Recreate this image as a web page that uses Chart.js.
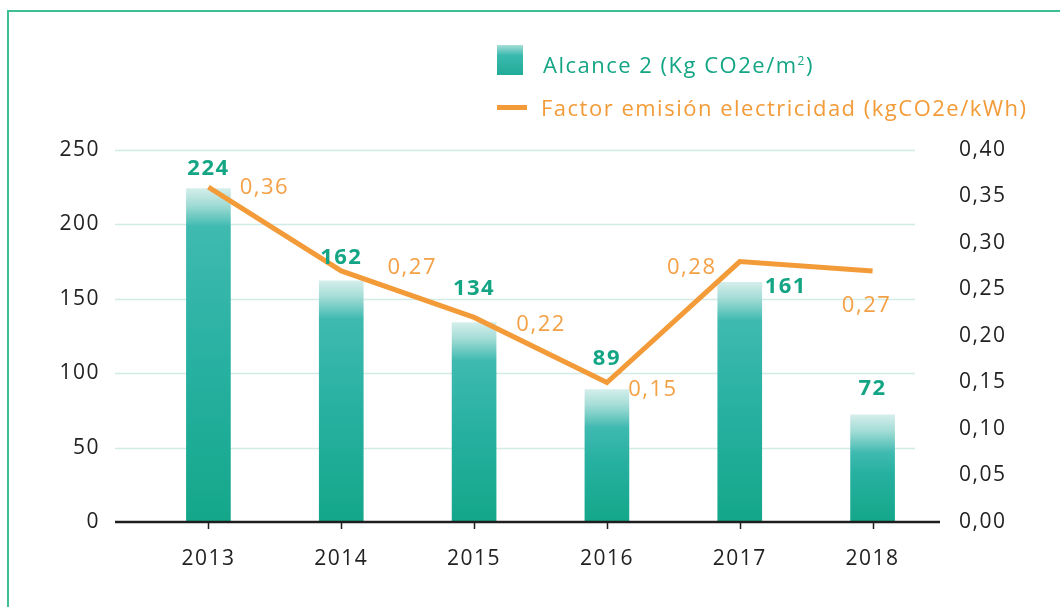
<!DOCTYPE html>
<html>
<head>
<meta charset="utf-8">
<script src="https://cdn.jsdelivr.net/npm/chart.js@4.4.1/dist/chart.umd.min.js"></script>
<style>
  body { margin: 0; background: #fff; font-family: "Open Sans", sans-serif; }
  #wrap { position: relative; width: 1060px; height: 607px; overflow: hidden; }
  #frame { position: absolute; left: 7px; top: 10px; width: 1100px; height: 700px;
           border-left: 2px solid #3cbf95; border-top: 2px solid #3cbf95; }
  canvas { position: absolute; left: 0; top: 0; }
  .leg { position: absolute; font-size: 22px; white-space: nowrap; letter-spacing: 1.5px; }
  .leg1 { left: 543px; top: 49px; color: #14a585; }
  .leg2 { left: 541px; top: 92px; color: #f39b38; }
  .icon1 { position: absolute; left: 497px; top: 45px; width: 26px; height: 30px;
           background: linear-gradient(#a6ddd8, #3ab9ae 35%, #22ab98); }
  .icon2 { position: absolute; left: 497px; top: 105px; width: 30px; height: 5px; background: #f39b38; }
</style>
</head>
<body>
<div id="wrap">
  <div id="frame"></div>
  <canvas id="chart" width="1060" height="607"></canvas>
  <div class="icon1"></div>
  <div class="leg leg1">Alcance 2 (Kg CO2e/m<sup style="font-size:12px">2</sup>)</div>
  <div class="icon2"></div>
  <div class="leg leg2">Factor emisión electricidad (kgCO2e/kWh)</div>
</div>
<script>
// Data
const years = ['2013', '2014', '2015', '2016', '2017', '2018'];
const alcance2 = [224, 162, 134, 89, 161, 72];
const factorEmision = [0.36, 0.27, 0.22, 0.15, 0.28, 0.27];

// label offsets (px) relative to bar top / line point
const barLabelOffsets = [[0, -20], [0, -23], [0, -34], [0, -31], [46, 4], [0, -26]];
const lineLabelOffsets = [[56, 1], [71, -3], [67, 7], [46, 7], [-48, 6], [-6, 35]];

const TEAL = '#14a585';
const ORANGE = '#f39b38';
const FONT = '"Open Sans", sans-serif';

function barGradient(context) {
    const chart = context.chart;
    const { ctx, chartArea, scales } = chart;
    if (!chartArea || context.raw === undefined) return '#2ab3a2';
    const top = scales.y.getPixelForValue(context.raw);
    const bottom = scales.y.getPixelForValue(0);
    const h = bottom - top;
    const g = ctx.createLinearGradient(0, top, 0, bottom);
    g.addColorStop(0, '#d4eeeb');
    g.addColorStop(Math.min(0.3, 16 / h), '#a3dcd6');
    g.addColorStop(Math.min(0.45, 38 / h), '#3fbab0');
    g.addColorStop(0.55, '#26b0a0');
    g.addColorStop(1, '#14a78a');
    return g;
}

// wider spacing for canvas text
const spacingPlugin = {
    id: 'spacingPlugin',
    beforeDraw(chart) { chart.ctx.letterSpacing = '1.5px'; }
};

// gridlines, axis line and tick marks
const axesPlugin = {
    id: 'axesPlugin',
    beforeDatasetsDraw(chart) {
        const { ctx, scales } = chart;
        ctx.save();
        ctx.strokeStyle = '#d3ebe5';
        ctx.lineWidth = 1.5;
        scales.y.ticks.forEach(t => {
            if (t.value === 0) return;
            const y = Math.round(scales.y.getPixelForValue(t.value)) + 0.5;
            ctx.beginPath();
            ctx.moveTo(115, y);
            ctx.lineTo(915, y);
            ctx.stroke();
        });
        ctx.restore();
    },
    afterDatasetsDraw(chart) {
        const { ctx, scales } = chart;
        const y0 = scales.y.getPixelForValue(0);
        ctx.save();
        ctx.strokeStyle = '#1e1e1e';
        ctx.lineWidth = 2.5;
        ctx.beginPath();
        ctx.moveTo(115, y0);
        ctx.lineTo(940, y0);
        ctx.stroke();
        ctx.lineWidth = 1.5;
        years.forEach((yr, i) => {
            const x = Math.round(scales.x.getPixelForValue(i)) + 0.5;
            ctx.beginPath();
            ctx.moveTo(x, y0);
            ctx.lineTo(x, y0 + 7);
            ctx.stroke();
        });
        ctx.restore();
    }
};

// value labels
const labelsPlugin = {
    id: 'labelsPlugin',
    afterDatasetsDraw(chart) {
        const { ctx } = chart;
        ctx.save();
        ctx.letterSpacing = '1.5px';
        ctx.textAlign = 'center';
        ctx.textBaseline = 'middle';
        const barMeta = chart.getDatasetMeta(1);
        ctx.font = 'bold 22px ' + FONT;
        ctx.fillStyle = TEAL;
        barMeta.data.forEach((el, i) => {
            const [dx, dy] = barLabelOffsets[i];
            ctx.fillText(String(alcance2[i]), el.x + dx, el.y + dy);
        });
        const lineMeta = chart.getDatasetMeta(0);
        ctx.font = '22px ' + FONT;
        ctx.fillStyle = '#f4a045';
        lineMeta.data.forEach((el, i) => {
            const [dx, dy] = lineLabelOffsets[i];
            ctx.fillText(factorEmision[i].toFixed(2).replace('.', ','), el.x + dx, el.y + dy);
        });
        ctx.restore();
    }
};

new Chart(document.getElementById('chart'), {
    type: 'bar',
    data: {
        labels: years,
        datasets: [
            {
                type: 'line',
                label: 'Factor emisión electricidad (kgCO2e/kWh)',
                data: factorEmision,
                yAxisID: 'y1',
                borderColor: ORANGE,
                borderWidth: 5,
                pointRadius: 0,
                tension: 0,
                borderCapStyle: 'butt',
                borderJoinStyle: 'miter'
            },
            {
                type: 'bar',
                label: 'Alcance 2 (Kg CO2e/m2)',
                data: alcance2,
                yAxisID: 'y',
                backgroundColor: barGradient,
                barThickness: 44
            }
        ]
    },
    options: {
        responsive: false,
        animation: false,
        layout: { padding: { top: 150, left: 0, right: 0, bottom: 0 } },
        plugins: {
            legend: { display: false },
            tooltip: { enabled: false }
        },
        scales: {
            x: {
                grid: { display: false, drawTicks: false },
                border: { display: false },
                ticks: { color: '#222', font: { family: FONT, size: 21 }, padding: 24 },
                afterFit: s => { s.height = 85; }
            },
            y: {
                position: 'left',
                min: 0,
                max: 250,
                grid: { display: false, drawTicks: false },
                border: { display: false },
                ticks: { stepSize: 50, color: '#222', font: { family: FONT, size: 21 }, padding: 42 },
                afterFit: s => { s.width = 142; }
            },
            y1: {
                position: 'right',
                min: 0,
                max: 0.4,
                grid: { display: false, drawTicks: false },
                border: { display: false },
                ticks: {
                    stepSize: 0.05,
                    color: '#222',
                    font: { family: FONT, size: 21 },
                    padding: 20,
                    callback: v => v.toFixed(2).replace('.', ',')
                },
                afterFit: s => { s.width = 121; }
            }
        }
    },
    plugins: [spacingPlugin, axesPlugin, labelsPlugin]
});
</script>
</body>
</html>
